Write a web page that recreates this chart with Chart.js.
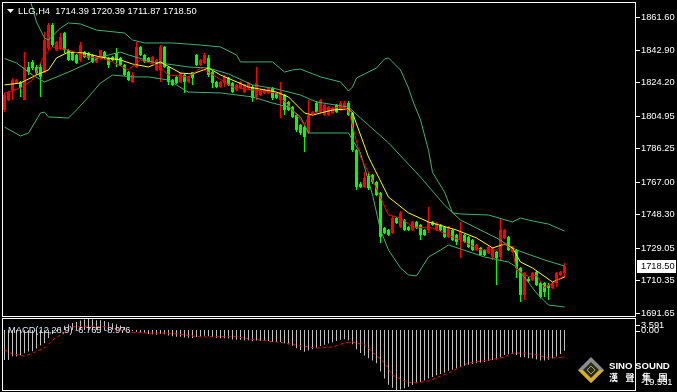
<!DOCTYPE html>
<html>
<head>
<meta charset="utf-8">
<script src="https://cdn.jsdelivr.net/npm/chart.js@4.4.1/dist/chart.umd.min.js"></script>
<style>
html, body { margin: 0; padding: 0; background: #000; }
body { width: 677px; height: 392px; position: relative; overflow: hidden; }
canvas { position: absolute; left: 0; }
#price { top: 0; }
#macd { top: 318px; }
</style>
</head>
<body>
<canvas id="price" width="677" height="318"></canvas>
<canvas id="macd" width="677" height="74"></canvas>
<script>
// LLG,H4 candles (index 0 = oldest on screen)
const openPrices = [
  1808.2, 1813.9, 1819.7, 1823.7, 1824.3, 1813.9, 1832.9, 1835.8, 1832.9, 1832.9,
  1830.0, 1843.8, 1857.0, 1842.7, 1843.8, 1852.4, 1842.7, 1841.5, 1839.8, 1836.9,
  1841.5, 1840.9, 1839.8, 1835.8, 1838.1, 1841.5, 1838.1, 1838.6, 1840.9, 1838.1,
  1834.0, 1830.0, 1824.3, 1832.9, 1844.4, 1839.8, 1838.1, 1835.2, 1831.2, 1831.2,
  1844.4, 1832.9, 1825.4, 1827.2, 1824.3, 1828.3, 1824.3, 1830.0, 1839.8, 1834.0,
  1835.2, 1838.1, 1830.0, 1824.3, 1821.4, 1823.7, 1826.6, 1823.7, 1819.7, 1820.8,
  1818.5, 1820.8, 1821.4, 1815.7, 1816.8, 1818.0, 1818.0, 1820.8, 1818.0, 1813.9,
  1816.8, 1812.8, 1810.0, 1805.3, 1799.6, 1798.4, 1795.0, 1805.3, 1812.2, 1807.0,
  1805.3, 1805.3, 1806.5, 1811.1, 1808.2, 1809.4, 1812.2, 1806.5, 1785.2, 1765.7,
  1764.0, 1770.3, 1770.9, 1766.9, 1760.5, 1740.5, 1739.3, 1737.6, 1746.2, 1741.0,
  1745.0, 1741.0, 1739.3, 1743.9, 1742.2, 1739.3, 1739.3, 1743.9, 1739.3, 1742.2,
  1741.0, 1735.3, 1739.3, 1736.4, 1733.6, 1736.4, 1735.3, 1733.6, 1727.8, 1729.0,
  1727.8, 1726.1, 1723.8, 1726.7, 1723.8, 1734.7, 1735.3, 1726.7, 1727.8, 1717.5,
  1702.0, 1711.2, 1710.6, 1715.2, 1708.9, 1708.9, 1707.7, 1706.0, 1708.9, 1713.5,
  1714.39
];
const highPrices = [
  1818.0, 1819.1, 1826.6, 1826.0, 1824.9, 1841.5, 1835.8, 1836.9, 1834.0, 1835.2,
  1853.0, 1858.2, 1858.2, 1847.8, 1852.4, 1853.0, 1843.2, 1842.1, 1840.4, 1847.3,
  1842.1, 1841.5, 1840.4, 1838.6, 1842.7, 1842.1, 1838.6, 1839.2, 1843.8, 1838.6,
  1834.6, 1830.6, 1830.0, 1847.3, 1845.0, 1840.4, 1838.6, 1839.2, 1837.5, 1845.5,
  1845.0, 1833.5, 1826.0, 1827.7, 1830.0, 1828.9, 1827.7, 1830.0, 1840.4, 1837.5,
  1840.9, 1839.8, 1830.6, 1824.9, 1824.9, 1828.3, 1827.2, 1824.3, 1823.1, 1824.9,
  1823.1, 1824.3, 1822.6, 1832.9, 1820.3, 1820.3, 1821.4, 1821.4, 1818.5, 1824.3,
  1817.4, 1813.4, 1810.5, 1805.9, 1800.2, 1799.0, 1813.9, 1807.6, 1813.4, 1814.5,
  1811.6, 1810.5, 1810.0, 1811.6, 1813.4, 1813.4, 1813.4, 1807.0, 1785.8, 1766.9,
  1772.6, 1772.0, 1771.5, 1767.4, 1761.1, 1741.0, 1739.9, 1747.3, 1746.8, 1750.2,
  1745.6, 1741.6, 1744.5, 1744.5, 1742.7, 1739.9, 1752.5, 1744.5, 1743.9, 1742.7,
  1741.6, 1741.6, 1739.9, 1737.0, 1743.9, 1737.0, 1735.8, 1734.1, 1731.2, 1729.5,
  1728.4, 1730.1, 1729.5, 1727.2, 1746.2, 1739.9, 1735.8, 1730.1, 1728.4, 1718.0,
  1715.2, 1712.3, 1715.2, 1715.8, 1709.4, 1709.4, 1708.9, 1709.4, 1715.2, 1715.8,
  1720.39
];
const lowPrices = [
  1807.0, 1813.4, 1813.9, 1823.1, 1815.7, 1813.9, 1828.3, 1831.2, 1828.3, 1815.7,
  1829.4, 1842.7, 1844.4, 1842.1, 1842.7, 1840.9, 1836.3, 1836.3, 1834.6, 1835.8,
  1838.1, 1836.9, 1835.2, 1835.2, 1836.9, 1837.5, 1832.3, 1836.3, 1832.9, 1833.5,
  1827.7, 1824.9, 1823.7, 1832.3, 1839.2, 1835.2, 1835.2, 1834.6, 1830.6, 1824.3,
  1832.3, 1822.6, 1822.0, 1823.1, 1823.7, 1818.0, 1823.7, 1822.6, 1833.5, 1833.5,
  1834.6, 1827.2, 1820.8, 1820.8, 1820.8, 1821.4, 1822.0, 1818.0, 1819.1, 1820.3,
  1818.0, 1820.3, 1812.8, 1813.9, 1816.2, 1817.4, 1817.4, 1813.9, 1814.5, 1803.4,
  1805.3, 1807.6, 1803.6, 1795.6, 1793.8, 1784.1, 1794.4, 1804.8, 1806.5, 1806.5,
  1804.8, 1804.8, 1805.9, 1806.5, 1807.6, 1808.8, 1804.8, 1784.1, 1762.3, 1763.4,
  1763.4, 1762.3, 1765.7, 1758.8, 1731.8, 1737.0, 1735.8, 1737.0, 1742.7, 1740.5,
  1738.7, 1738.7, 1738.7, 1739.9, 1733.6, 1735.8, 1737.6, 1741.6, 1738.7, 1738.7,
  1734.7, 1734.7, 1733.0, 1730.7, 1723.2, 1731.8, 1728.9, 1727.2, 1727.2, 1724.4,
  1724.4, 1725.5, 1722.1, 1707.7, 1722.1, 1734.1, 1727.2, 1726.1, 1711.7, 1697.9,
  1699.1, 1708.9, 1710.0, 1707.2, 1700.0, 1700.8, 1699.1, 1705.4, 1706.6, 1712.9,
  1711.87
];
const closePrices = [
  1816.8, 1818.0, 1825.4, 1825.4, 1820.8, 1832.9, 1830.0, 1832.3, 1829.4, 1827.2,
  1848.4, 1857.0, 1845.5, 1847.3, 1850.1, 1842.7, 1836.9, 1836.9, 1835.2, 1845.5,
  1838.6, 1838.1, 1835.8, 1838.1, 1842.7, 1838.1, 1834.0, 1836.9, 1836.9, 1834.0,
  1828.3, 1825.4, 1828.3, 1844.4, 1839.8, 1835.8, 1835.8, 1838.6, 1836.9, 1844.4,
  1832.9, 1824.3, 1822.6, 1823.7, 1829.4, 1824.3, 1827.2, 1826.6, 1834.0, 1836.9,
  1839.8, 1828.3, 1823.7, 1821.4, 1824.3, 1827.2, 1822.6, 1818.5, 1822.6, 1824.3,
  1822.6, 1823.7, 1815.1, 1823.7, 1819.7, 1819.7, 1820.8, 1815.1, 1815.1, 1818.5,
  1808.2, 1808.2, 1804.2, 1796.7, 1795.0, 1792.7, 1805.3, 1807.0, 1807.0, 1813.9,
  1811.1, 1810.0, 1809.4, 1807.0, 1812.2, 1812.2, 1805.3, 1785.2, 1764.0, 1764.0,
  1769.2, 1763.4, 1766.9, 1759.4, 1735.3, 1737.6, 1736.4, 1746.2, 1743.3, 1749.1,
  1739.3, 1739.3, 1743.9, 1740.4, 1736.4, 1736.4, 1743.9, 1742.2, 1743.3, 1739.3,
  1735.3, 1741.0, 1733.6, 1732.4, 1738.1, 1732.4, 1729.5, 1727.8, 1730.7, 1724.9,
  1724.9, 1729.5, 1729.0, 1723.2, 1739.3, 1739.3, 1727.8, 1729.5, 1717.5, 1702.0,
  1714.6, 1710.0, 1714.6, 1707.7, 1700.8, 1703.7, 1706.0, 1708.9, 1714.6, 1715.2,
  1718.50
];

// indicator lines: [candle index, price]
const bbUpper = [
  [0, 1917.3], [7, 1866.8], [8, 1858.7], [10, 1849.5], [11, 1848.4], [14, 1855.3], [16, 1858.2],
  [19, 1857.6], [23, 1854.1], [30, 1852.4], [32, 1848.4], [35, 1846.7], [42, 1846.7], [49, 1845.5],
  [54, 1844.4], [58, 1839.8], [59, 1835.8], [67, 1835.8], [70, 1830.0], [72, 1831.2], [74, 1831.7],
  [79, 1827.2], [84, 1824.3], [86, 1819.1], [87, 1821.4], [88, 1826.6], [90, 1828.9], [93, 1832.3],
  [95, 1837.5], [96, 1838.1], [97, 1835.8], [99, 1831.2], [101, 1820.8], [102, 1813.9], [104, 1802.5],
  [106, 1785.0], [107, 1772.4], [110, 1761.1], [112, 1749.1], [114, 1748.5], [121, 1747.9],
  [127, 1743.9], [129, 1746.2], [131, 1745.0], [136, 1742.7], [140, 1738.7]
];
const bbMiddle = [
  [0, 1837.8], [3, 1835.2], [7, 1828.3], [10, 1824.3], [16, 1830.0], [21, 1835.2], [24, 1838.6],
  [29, 1841.5], [31, 1839.8], [37, 1835.8], [46, 1832.9], [51, 1832.3], [56, 1828.9], [62, 1822.6],
  [68, 1820.3], [74, 1816.8], [78, 1812.8], [86, 1809.9], [89, 1803.6], [96, 1789.3], [104, 1769.7],
  [110, 1753.6], [114, 1745.0], [123, 1734.7], [128, 1727.8], [135, 1722.1], [140, 1718.6]
];
const bbLower = [
  [0, 1798.4], [4, 1793.3], [6, 1795.0], [9, 1806.5], [10, 1807.0], [11, 1804.2], [16, 1803.6],
  [18, 1808.2], [21, 1815.7], [24, 1823.7], [27, 1828.3], [32, 1827.2], [36, 1827.2], [41, 1825.4],
  [45, 1819.7], [46, 1818.5], [54, 1818.0], [62, 1815.7], [67, 1812.2], [71, 1809.9], [74, 1804.2],
  [76, 1795.0], [86, 1795.0], [87, 1791.0], [89, 1783.5], [92, 1759.4], [94, 1739.3], [96, 1727.8],
  [99, 1717.5], [101, 1713.5], [103, 1712.9], [106, 1723.8], [109, 1727.8], [111, 1730.7],
  [120, 1723.8], [126, 1720.9], [128, 1718.0], [133, 1703.1], [136, 1696.2], [140, 1695.1]
];
const maSlow = [
  [0, 1822.6], [4, 1823.7], [8, 1828.3], [11, 1831.2], [13, 1838.1], [16, 1841.5], [20, 1840.9],
  [24, 1838.6], [29, 1836.9], [32, 1834.6], [36, 1832.9], [39, 1835.8], [44, 1829.4], [47, 1828.9],
  [51, 1832.3], [54, 1828.3], [61, 1821.4], [68, 1818.5], [71, 1815.7], [75, 1806.5], [77, 1805.3],
  [82, 1808.2], [86, 1808.8], [87, 1806.5], [91, 1781.2], [96, 1758.2], [101, 1749.1], [106, 1743.9],
  [113, 1739.3], [118, 1734.7], [122, 1729.0], [125, 1731.2], [127, 1729.0], [129, 1720.9],
  [132, 1717.5], [137, 1709.4], [140, 1712.3]
];
const maFast = [
  [0, 1817.9], [4, 1820.8], [7, 1825.4], [10, 1839.8], [12, 1844.4], [16, 1842.7], [21, 1838.6],
  [24, 1838.1], [27, 1835.8], [31, 1831.2], [34, 1836.9], [38, 1834.0], [41, 1828.3], [46, 1827.2],
  [49, 1832.3], [53, 1827.2], [57, 1821.4], [62, 1819.7], [68, 1818.0], [72, 1808.2], [75, 1799.6],
  [76, 1804.2], [79, 1808.2], [84, 1809.9], [86, 1808.2], [89, 1781.2], [92, 1768.0], [96, 1747.9],
  [99, 1746.2], [102, 1741.0], [107, 1740.4], [115, 1732.4], [119, 1727.8], [123, 1727.8],
  [125, 1731.6], [127, 1727.8], [128, 1716.3], [131, 1712.6], [133, 1713.3], [135, 1706.3],
  [137, 1708.6], [140, 1713.3]
];

// MACD(12,26,9): main histogram per candle, signal line points
const macdMain = [
  -9.8, -9.8, -8.5, -8.6, -8.2, -7.6, -7.0, -6.9, -6.0, -5.0,
  -4.3, -2.6, -1.3, -0.4, 0.6, 1.4, 1.9, 2.3, 2.6, 3.1,
  3.4, 3.591, 3.4, 3.2, 3.2, 2.9, 2.5, 2.2, 1.9, 1.5,
  0.9, 0.3, -0.3, -0.6, -0.8, -1.0, -1.3, -1.4, -1.5, -1.2,
  -1.4, -1.8, -2.0, -2.2, -2.2, -2.4, -2.5, -2.6, -2.3, -2.1,
  -1.9, -2.0, -2.3, -2.6, -2.7, -2.7, -2.8, -3.1, -3.2, -3.2,
  -3.3, -3.3, -3.6, -3.4, -3.5, -3.6, -3.6, -3.8, -3.9, -3.9,
  -4.3, -4.6, -5.1, -5.9, -6.5, -7.1, -6.7, -6.3, -5.8, -5.2,
  -4.8, -4.4, -4.0, -3.6, -3.2, -3.0, -3.3, -4.6, -6.3, -7.5,
  -8.3, -9.2, -9.9, -10.8, -13.5, -15.8, -17.8, -18.8, -19.531, -19.4,
  -19.0, -18.5, -17.9, -17.3, -16.9, -16.4, -15.8, -15.3, -14.7, -14.3,
  -13.9, -13.3, -12.9, -12.5, -12.0, -11.6, -11.3, -11.1, -10.8, -10.6,
  -10.4, -10.1, -9.8, -9.6, -8.8, -8.1, -7.9, -7.7, -8.1, -8.9,
  -8.9, -9.2, -9.3, -9.6, -9.9, -9.9, -9.7, -9.3, -8.6, -7.8,
  -6.765
];
const macdSignal = [
  [0, -6.5], [2, -7.8], [5, -8.5], [7, -7.5], [10, -5.9], [12, -3.3], [15, -0.7], [17, 1.0],
  [21, 1.3], [26, 1.0], [31, -0.7], [36, -1.0], [41, -1.0], [45, -1.6], [49, -2.3], [57, -2.0],
  [61, -2.9], [66, -3.6], [70, -4.2], [74, -5.2], [78, -5.9], [82, -5.5], [85, -4.2], [87, -3.9],
  [90, -4.9], [92, -7.2], [95, -10.7], [97, -14.7], [100, -16.6], [102, -17.3], [106, -16.6],
  [111, -14.0], [116, -10.7], [121, -9.8], [125, -8.8], [127, -7.5], [130, -7.5], [133, -8.1],
  [136, -9.1], [140, -8.976]
];

const priceTicks = [1861.60, 1842.90, 1824.20, 1804.95, 1786.25, 1767.00, 1748.30, 1729.05, 1710.35, 1691.65];
const macdTicks = [3.591, 0.00, -19.531];
const titleText = 'LLG,H4  1714.39 1720.39 1711.87 1718.50';
const macdText = 'MACD(12,26,9) -6.765 -8.976';

const FONT = '9.3px "Liberation Sans", Arial, sans-serif';
const BB_COLOR = '#3cb371';
const idx = openPrices.map((_, i) => i);
const candleColors = idx.map(i => closePrices[i] >= openPrices[i] ? '#ff0000' : '#00ff00');
const pts = arr => arr.map(([x, y]) => ({ x, y }));
const xScale = { type: 'linear', min: -1.125, max: 157.625, display: false, offset: false };

function lineSet(data, color, order) {
  return { type: 'line', data: pts(data), borderColor: color, borderWidth: 1, pointRadius: 0, tension: 0, order: order };
}

const mainDeco = {
  id: 'mainDeco',
  afterDraw(chart) {
    const ctx = chart.ctx, y = chart.scales.y;
    ctx.save();
    ctx.strokeStyle = '#ffffff';
    ctx.lineWidth = 1;
    ctx.strokeRect(2.5, 2.5, 633, 314);
    ctx.font = FONT;
    ctx.fillStyle = '#ffffff';
    ctx.textBaseline = 'middle';
    priceTicks.forEach(v => {
      const py = Math.round(y.getPixelForValue(v)) + 0.5;
      ctx.beginPath(); ctx.moveTo(636, py); ctx.lineTo(640, py); ctx.stroke();
      ctx.fillText(v.toFixed(2), 641, py);
    });
    // last price box
    const last = closePrices[closePrices.length - 1];
    const ly = Math.round(y.getPixelForValue(last));
    ctx.fillRect(637, ly - 6, 39, 13);
    ctx.fillStyle = '#000000';
    ctx.fillText(last.toFixed(2), 641, ly + 0.5);
    // title
    ctx.fillStyle = '#ffffff';
    ctx.beginPath(); ctx.moveTo(7, 9); ctx.lineTo(14, 9); ctx.lineTo(10.5, 13); ctx.closePath(); ctx.fill();
    ctx.textBaseline = 'alphabetic';
    ctx.fillText(titleText, 18, 14);
    ctx.restore();
  }
};

const macdDeco = {
  id: 'macdDeco',
  afterDraw(chart) {
    const ctx = chart.ctx;
    ctx.save();
    ctx.strokeStyle = '#ffffff';
    ctx.lineWidth = 1;
    ctx.strokeRect(2.5, 0.5, 633, 72);
    // logo
    const cx = 591, cy = 52;
    ctx.fillStyle = '#8c8c8c';
    ctx.beginPath(); ctx.moveTo(cx, cy - 13); ctx.lineTo(cx + 13, cy); ctx.lineTo(cx, cy + 13); ctx.lineTo(cx - 13, cy); ctx.closePath(); ctx.fill();
    ctx.fillStyle = '#d8b020';
    ctx.beginPath(); ctx.moveTo(cx - 13, cy); ctx.lineTo(cx, cy + 13); ctx.lineTo(cx + 13, cy); ctx.lineTo(cx + 8, cy); ctx.lineTo(cx, cy + 8); ctx.lineTo(cx - 8, cy); ctx.closePath(); ctx.fill();
    ctx.fillStyle = '#2a2a20';
    ctx.beginPath(); ctx.moveTo(cx, cy - 8); ctx.lineTo(cx + 8, cy); ctx.lineTo(cx, cy + 8); ctx.lineTo(cx - 8, cy); ctx.closePath(); ctx.fill();
    ctx.strokeStyle = '#a8b030';
    ctx.beginPath(); ctx.moveTo(cx, cy - 4); ctx.lineTo(cx + 4, cy); ctx.lineTo(cx, cy + 4); ctx.lineTo(cx - 4, cy); ctx.closePath(); ctx.stroke();
    ctx.fillStyle = '#ffffff';
    ctx.font = 'bold 9.6px "Liberation Sans", Arial, sans-serif';
    ctx.textBaseline = 'alphabetic';
    ctx.fillText('SINO SOUND', 609, 51);
    ctx.font = 'bold 9px "Noto Sans CJK TC", sans-serif';
    ['漢', '聲', '集', '團'].forEach((ch, k) => ctx.fillText(ch, 609 + k * 16.5, 63));
    // label
    ctx.font = FONT;
    ctx.fillStyle = '#dce8f6';
    ctx.fillText(macdText, 8, 15);
    // axis
    ctx.fillStyle = '#ffffff';
    ctx.strokeStyle = '#ffffff';
    ctx.textBaseline = 'middle';
    const labelY = [7, 12.5, 64];
    macdTicks.forEach((v, k) => {
      if (k < 2) { ctx.beginPath(); ctx.moveTo(636, Math.round(labelY[k]) + 0.5); ctx.lineTo(640, Math.round(labelY[k]) + 0.5); ctx.stroke(); }
      ctx.fillText(k === 1 ? v.toFixed(2) : String(v), 641, labelY[k]);
    });
    ctx.restore();
  }
};

new Chart(document.getElementById('price'), {
  type: 'bar',
  data: {
    datasets: [
      lineSet(maFast, '#ff0000', -2),
      lineSet(maSlow, '#ffff00', -1),
      lineSet(bbUpper, BB_COLOR, 0),
      lineSet(bbMiddle, BB_COLOR, 0),
      lineSet(bbLower, BB_COLOR, 0),
      {
        type: 'bar', order: 1, grouped: false, barThickness: 3, inflateAmount: 0,
        data: idx.map(i => ({ x: i, y: [openPrices[i], closePrices[i]] })),
        backgroundColor: candleColors
      },
      {
        type: 'bar', order: 2, grouped: false, barThickness: 1, inflateAmount: 0,
        data: idx.map(i => ({ x: i, y: [lowPrices[i], highPrices[i]] })),
        backgroundColor: candleColors
      }
    ]
  },
  options: {
    responsive: false, animation: false, devicePixelRatio: 1,
    layout: { padding: { left: 0, right: 42, top: 3, bottom: 2 } },
    plugins: { legend: { display: false }, tooltip: { enabled: false } },
    scales: {
      x: xScale,
      y: { min: 1689.91, max: 1869.64, display: false }
    }
  },
  plugins: [mainDeco]
});

new Chart(document.getElementById('macd'), {
  type: 'bar',
  data: {
    datasets: [
      { type: 'line', data: pts(macdSignal), borderColor: '#ff0000', borderWidth: 1, borderDash: [3, 3], pointRadius: 0, tension: 0, order: 0 },
      {
        type: 'bar', order: 1, grouped: false, barThickness: 1, inflateAmount: 0,
        data: idx.map(i => ({ x: i, y: macdMain[i] })),
        backgroundColor: '#c0c0c0'
      }
    ]
  },
  options: {
    responsive: false, animation: false, devicePixelRatio: 1,
    layout: { padding: { left: 0, right: 42, top: 1, bottom: 2 } },
    plugins: { legend: { display: false }, tooltip: { enabled: false } },
    scales: {
      x: xScale,
      y: { min: -19.531, max: 3.591, display: false }
    }
  },
  plugins: [macdDeco]
});
</script>
</body>
</html>
